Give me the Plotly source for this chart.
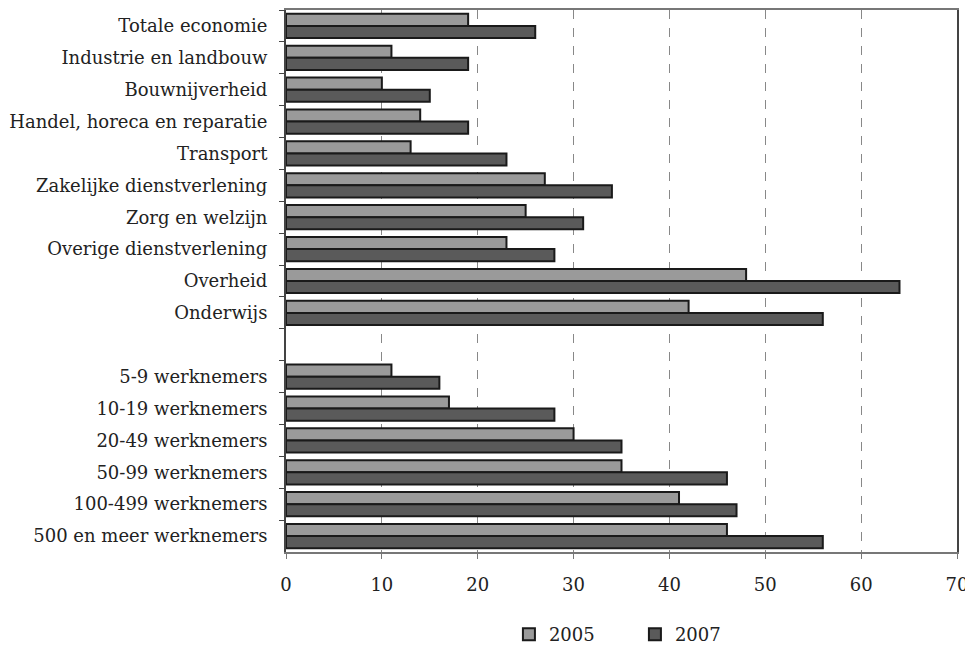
import plotly.graph_objects as go

categories = [
    "Totale economie", "Industrie en landbouw", "Bouwnijverheid",
    "Handel, horeca en reparatie", "Transport", "Zakelijke dienstverlening",
    "Zorg en welzijn", "Overige dienstverlening", "Overheid", "Onderwijs",
    " ",
    "5-9 werknemers", "10-19 werknemers", "20-49 werknemers",
    "50-99 werknemers", "100-499 werknemers", "500 en meer werknemers",
]
values_2005 = [19, 11, 10, 14, 13, 27, 25, 23, 48, 42, None, 11, 17, 30, 35, 41, 46]
values_2007 = [26, 19, 15, 19, 23, 34, 31, 28, 64, 56, None, 16, 28, 35, 46, 47, 56]
x_ticks = [0, 10, 20, 30, 40, 50, 60, 70]

font = "DejaVu Serif"

fig = go.Figure()
fig.add_trace(go.Bar(
    y=categories, x=values_2005, name="2005", orientation="h",
    marker=dict(color="#9a9a9a", line=dict(color="#1a1a1a", width=2)),
))
fig.add_trace(go.Bar(
    y=categories, x=values_2007, name="2007", orientation="h",
    marker=dict(color="#5a5a5a", line=dict(color="#1a1a1a", width=2)),
))

fig.update_layout(
    width=965, height=646,
    margin=dict(l=278, r=16, t=0, b=102),
    paper_bgcolor="white", plot_bgcolor="white",
    barmode="group", bargap=0.24, bargroupgap=0.0,
    font=dict(family=font, size=18, color="#222"),
    showlegend=True,
    legend=dict(orientation="h", x=0.52, xanchor="center", y=-0.118, yanchor="top",
                font=dict(family=font, size=18), itemwidth=30,
                entrywidth=81, entrywidthmode="pixels"),
)
fig.update_xaxes(
    range=[0, 70], tickvals=x_ticks, showgrid=True,
    gridcolor="#888", griddash="dash", gridwidth=1,
    showline=True, linecolor="#777", linewidth=2, mirror=True,
    ticks="outside", ticklen=5, tickcolor="#777", zeroline=False,
    tickfont=dict(family=font, size=18), ticklabelstandoff=10,
)
fig.update_yaxes(
    type="category", categoryorder="array", categoryarray=categories,
    autorange="reversed", tickson="boundaries",
    showline=True, linecolor="#444", linewidth=2, mirror=True,
    ticks="outside", ticklen=5, tickcolor="#444", showgrid=False,
    tickfont=dict(family=font, size=18), ticklabelstandoff=13,
)

fig.write_html("out.html")
